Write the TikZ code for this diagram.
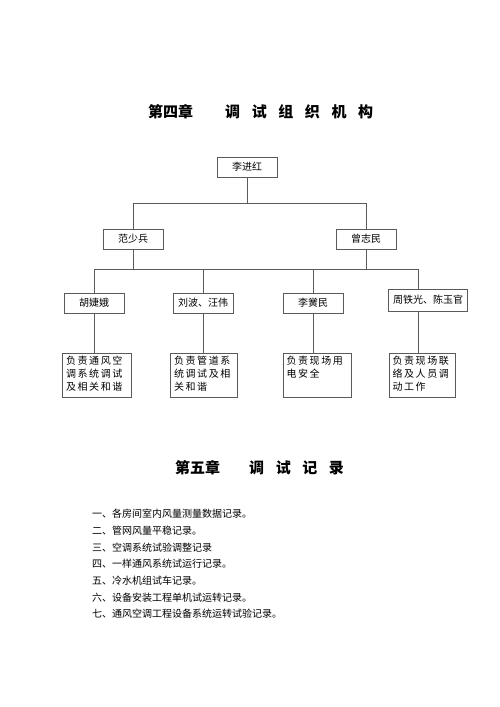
\documentclass[tikz,border=0pt]{standalone}
\usepackage{fontspec}
\setmainfont{Noto Sans CJK SC}
\newfontfamily\dutyfont[LetterSpace=16]{Noto Sans CJK SC}
\usepackage{tikz}
\definecolor{linegray}{HTML}{5A5A5A}

\begin{document}
\begin{tikzpicture}[x=1pt,y=-1pt,
	line/.style={draw=linegray,line width=0.7pt},
	person/.style={draw=linegray,line width=0.7pt,minimum width=60pt,minimum height=20pt,inner sep=2pt,font=\fontsize{10}{12}\selectfont},
	duty/.style={draw=linegray,line width=0.7pt,inner sep=3.5pt,font=\dutyfont\fontsize{10}{13}\selectfont},
	heading/.style={anchor=west,inner sep=0pt,font=\fontsize{15}{17}\selectfont\bfseries},
	records/.style={anchor=north west,inner sep=0pt,align=left,font=\fontsize{10}{16.7}\selectfont}]
	\useasboundingbox (0,0) rectangle (500,707);

	\node[heading] (ch4) at (148,112) {第四章\hspace{32pt}调\hspace{11.6pt}试\hspace{11.6pt}组\hspace{11.6pt}织\hspace{11.6pt}机\hspace{11.6pt}构};

  			\node[person] (ljh) at (247,167) {李进红};
  			\node[person] (fsb) at (133,239) {范少兵};
  			\node[person] (zzm) at (366,239) {曾志民};

  			\node[person] (hje) at (94,303)  {胡婕娥};
  			\node[person] (lbw) at (203,303) {刘波、汪伟};
  			\node[person] (lhm) at (313,303) {李黉民};
  			\node[person,minimum width=79pt,minimum height=22pt] (zty) at (428,300) {周铁光、陈玉官};

  			\node[duty] (d1) at (97,375)  {\parbox[c][37pt][t]{62pt}{负责通风空\\调系统调试\\及相关和谐}};
  			\node[duty] (d2) at (204,375) {\parbox[c][37pt][t]{60pt}{负责管道系\\统调试及相\\关和谐}};
  			\node[duty] (d3) at (317,375) {\parbox[c][37pt][t]{61pt}{负责现场用\\电安全}};
  			\node[duty] (d4) at (422,375) {\parbox[c][37pt][t]{59pt}{负责现场联\\络及人员调\\动工作}};

  			\coordinate (top) at (247,203);
  			\coordinate (busl) at (94,269);
  			\coordinate (busr) at (418,269);

  			\path[line] (ljh) edge (top)
  			         (fsb.north |- top) edge (zzm.north |- top)
  			         (fsb.north |- top) edge (fsb)
  			         (zzm.north |- top) edge (zzm)
  			         (busl) edge (busr)
  			         (fsb) edge (fsb |- busl)
  			         (zzm) edge (zzm |- busl)
  			         (busl) edge (hje)
  			         (lbw |- busl) edge (lbw)
  			         (lhm |- busl) edge (lhm)
  			         (busr) edge (busr |- zty.north)
  			         (hje) edge (hje |- d1.north)
  			         (lbw) edge (lbw |- d2.north)
  			         (lhm) edge (lhm |- d3.north)
  			         (busr |- zty.south) edge (busr |- d4.north);

	\node[heading] (ch5) at (175,468) {第五章\hspace{29pt}调\hspace{11.6pt}试\hspace{11.6pt}记\hspace{11.6pt}录};

	\node[records] (rec) at (92,509) {一、各房间室内风量测量数据记录。\\二、管网风量平稳记录。\\三、空调系统试验调整记录\\四、一样通风系统试运行记录。\\五、冷水机组试车记录。\\六、设备安装工程单机试运转记录。\\七、通风空调工程设备系统运转试验记录。};
\end{tikzpicture}
\end{document}
